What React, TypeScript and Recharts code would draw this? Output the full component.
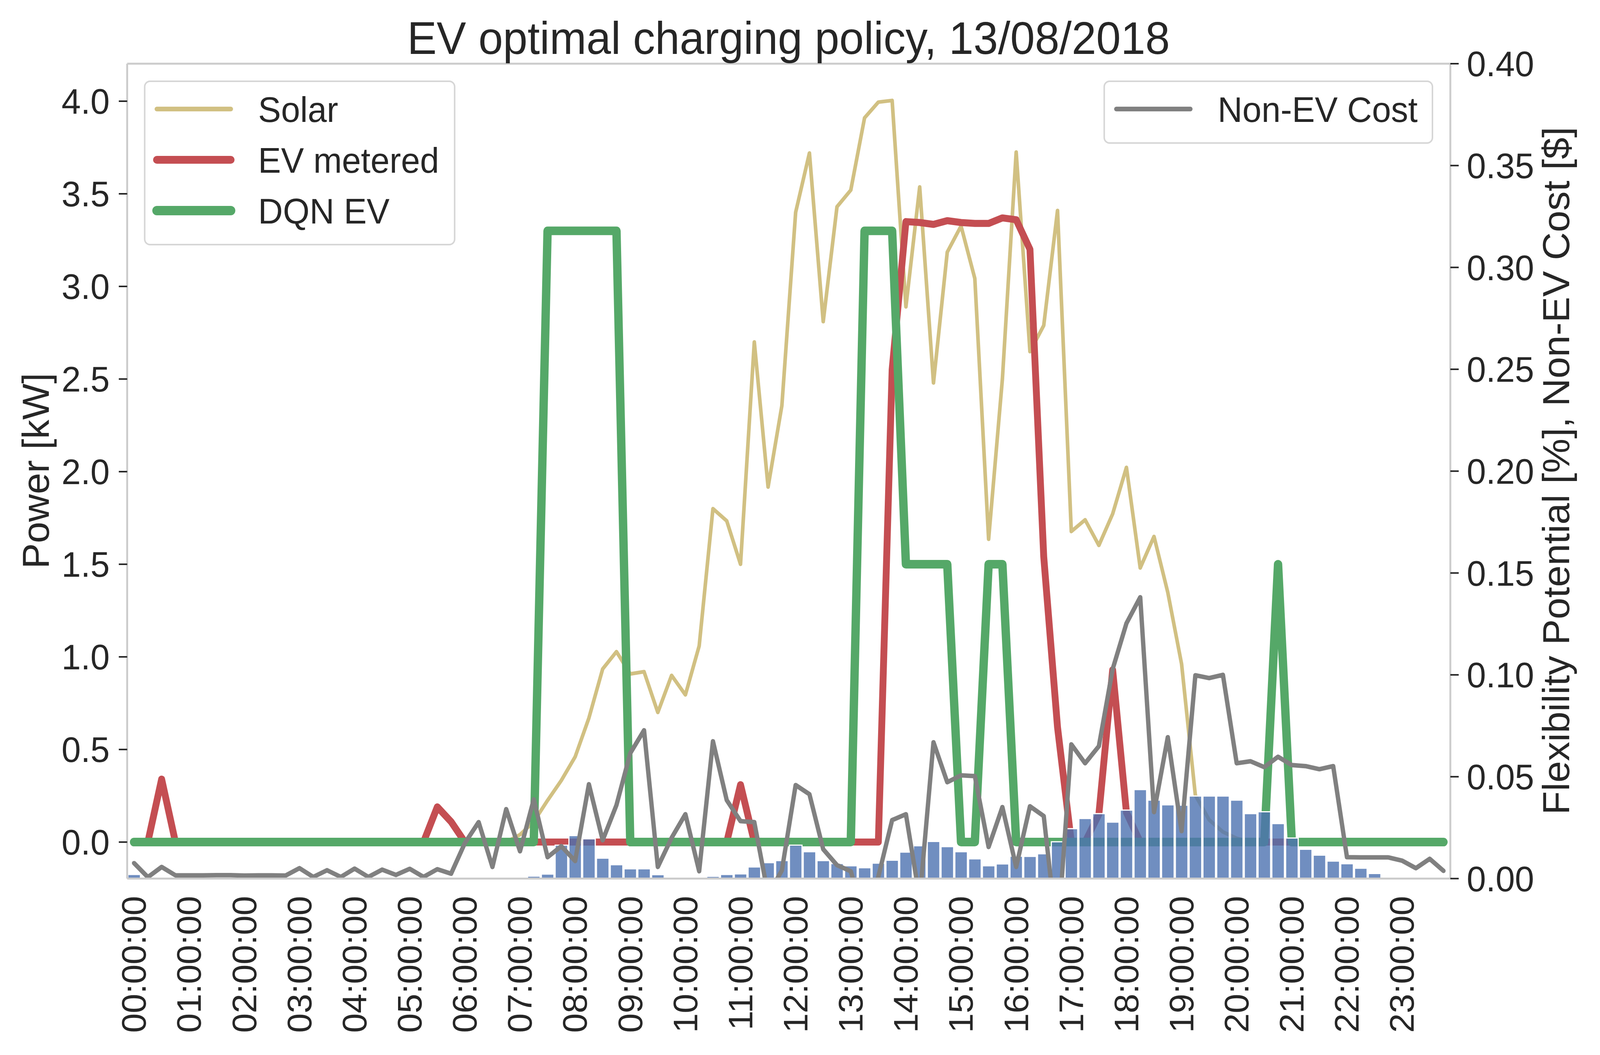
import {
  Bar,
  ComposedChart,
  Line,
  ReferenceLine,
  XAxis,
  YAxis,
} from 'recharts';

const FONT = '"Liberation Sans", Arial, Helvetica, sans-serif';
const INK = '#262626';
const SPINE = '#cccccc';

const HOURS = [
  '00', '01', '02', '03', '04', '05', '06', '07', '08', '09', '10', '11',
  '12', '13', '14', '15', '16', '17', '18', '19', '20', '21', '22', '23',
];
const QUARTERS = ['00', '15', '30', '45'];
const TIMES = HOURS.flatMap((h) => QUARTERS.map((q) => `${h}:${q}:00`));

// kW, left axis
const SOLAR = [
  0, 0, 0, 0, 0, 0, 0, 0,
  0, 0, 0, 0, 0, 0, 0, 0,
  0, 0, 0, 0, 0, 0, 0, 0,
  0, 0, 0, 0, 0.04, 0.11, 0.225, 0.333,
  0.46, 0.67, 0.935, 1.028, 0.908, 0.92, 0.7, 0.9,
  0.795, 1.059, 1.8, 1.734, 1.5, 2.7, 1.917, 2.356,
  3.4, 3.72, 2.81, 3.43, 3.52, 3.91, 3.995, 4.004,
  2.89, 3.537, 2.479, 3.185, 3.326, 3.043, 1.635, 2.5,
  3.725, 2.648, 2.789, 3.41, 1.677, 1.74, 1.602, 1.772,
  2.023, 1.48, 1.65, 1.348, 0.962, 0.253, 0.12, 0.055,
  0.02, 0, 0, 0, 0, 0, 0, 0,
  0, 0, 0, 0, 0, 0, 0, 0,
];

const EV_METERED = [
  0, 0, 0.34, 0, 0, 0, 0, 0,
  0, 0, 0, 0, 0, 0, 0, 0,
  0, 0, 0, 0, 0, 0, 0.19, 0.11,
  0, 0, 0, 0, 0, 0, 0, 0,
  0, 0, 0, 0, 0, 0, 0, 0,
  0, 0, 0, 0, 0.31, 0, 0, 0,
  0, 0, 0, 0, 0, 0, 0, 2.55,
  3.35, 3.345, 3.335, 3.355, 3.345, 3.34, 3.34, 3.37,
  3.36, 3.2, 1.54, 0.62, 0, 0, 0.15, 0.93,
  0.16, 0, 0, 0, 0, 0, 0, 0,
  0, 0, 0, 0, 0, 0, 0, 0,
  0, 0, 0, 0, 0, 0, 0, 0,
];

const DQN_EV = [
  0, 0, 0, 0, 0, 0, 0, 0,
  0, 0, 0, 0, 0, 0, 0, 0,
  0, 0, 0, 0, 0, 0, 0, 0,
  0, 0, 0, 0, 0, 0, 3.3, 3.3,
  3.3, 3.3, 3.3, 3.3, 0, 0, 0, 0,
  0, 0, 0, 0, 0, 0, 0, 0,
  0, 0, 0, 0, 0, 3.3, 3.3, 3.3,
  1.5, 1.5, 1.5, 1.5, 0, 0, 1.5, 1.5,
  0, 0, 0, 0, 0, 0, 0, 0,
  0, 0, 0, 0, 0, 0, 0, 0,
  0, 0, 0, 1.5, 0, 0, 0, 0,
  0, 0, 0, 0, 0, 0, 0, 0,
];

// right axis
const FLEXIBILITY = [
  0.002, 0.0002, 0.0003, 0, 0, 0, 0, 0,
  0, 0, 0, 0.0005, 0, 0, 0.0002, 0,
  0, 0, 0.0007, 0, 0.0007, 0, 0, 0.0003,
  0, 0, 0, 0, 0, 0.0012, 0.0022, 0.0164,
  0.0211, 0.0195, 0.01, 0.0068, 0.0048, 0.0048, 0.0019, 0,
  0.0003, 0, 0.0011, 0.002, 0.0023, 0.0057, 0.0078, 0.0088,
  0.0164, 0.0132, 0.0088, 0.0074, 0.0063, 0.0053, 0.0076, 0.009,
  0.013, 0.0161, 0.0182, 0.0157, 0.0132, 0.0097, 0.0063, 0.0072,
  0.011, 0.0109, 0.0122, 0.0181, 0.0245, 0.0295, 0.0319, 0.0277,
  0.0336, 0.0437, 0.0385, 0.0362, 0.036, 0.0405, 0.0405, 0.0405,
  0.0385, 0.0319, 0.0328, 0.027, 0.0199, 0.0144, 0.0115, 0.0086,
  0.0073, 0.0051, 0.0025, 0, 0.0002, 0.0003, 0.0005, 0.0003,
];

const NON_EV_COST = [
  0.0076, 0.0007, 0.0057, 0.0016, 0.0016, 0.0016, 0.0017, 0.0017,
  0.0015, 0.0016, 0.0016, 0.0015, 0.0051, 0.0008, 0.0041, 0.0008,
  0.0049, 0.0008, 0.0044, 0.0018, 0.0048, 0.0008, 0.0046, 0.0024,
  0.0174, 0.0277, 0.0057, 0.0341, 0.0134, 0.0389, 0.0105, 0.0159,
  0.0086, 0.0463, 0.0188, 0.0361, 0.0615, 0.0728, 0.0057, 0.02,
  0.0316, 0.0036, 0.0674, 0.0385, 0.0282, 0.0277, -0.008, 0.004,
  0.0459, 0.0414, 0.0144, 0.0066, 0.0036, -0.02, 0.001, 0.0287,
  0.0316, -0.01, 0.0669, 0.0473, 0.0507, 0.0503, 0.0155, 0.0351,
  0.0057, 0.0355, 0.0307, -0.03, 0.0659, 0.0566, 0.065, 0.1028,
  0.1253, 0.1381, 0.0326, 0.0694, 0.0233, 0.0998, 0.0984, 0.1,
  0.0566, 0.0576, 0.0547, 0.0598, 0.0557, 0.0552, 0.0537, 0.0552,
  0.0105, 0.0104, 0.0104, 0.0104, 0.0088, 0.0051, 0.0097, 0.0038,
];

const POWER_TICKS = [0, 0.5, 1, 1.5, 2, 2.5, 3, 3.5, 4];
const RIGHT_TICKS = [0, 0.05, 0.1, 0.15, 0.2, 0.25, 0.3, 0.35, 0.4];
const POWER_DOMAIN = [-0.197, 4.2025];
const RIGHT_DOMAIN = [0, 0.4];

const LEFT_ITEMS = [
  { name: 'Solar', color: '#d1c082', width: 12 },
  { name: 'EV metered', color: '#c44e52', width: 20 },
  { name: 'DQN EV', color: '#55a868', width: 24 },
];
const RIGHT_ITEMS = [{ name: 'Non-EV Cost', color: '#808080', width: 12 }];

const data = TIMES.map((time, i) => ({
  time,
  solar: SOLAR[i],
  ev: EV_METERED[i],
  dqn: DQN_EV[i],
  flex: FLEXIBILITY[i],
  cost: NON_EV_COST[i],
}));

const W = 4200;
const H = 2700;
// the photographed viewport is a little narrower than 4200px,
// so the whole figure is squeezed horizontally to stay in frame
const FIT_X = 4094 / 4200;
const tickStyle = { fontSize: 91, fill: INK, fontFamily: FONT };
const layer = { position: 'absolute' as const, left: 0, top: 0 };

function TimeTick(props: any) {
  const { x, payload } = props;
  const y = 2293;
  return (
    <text
      x={x}
      y={y}
      transform={`rotate(-90 ${x} ${y})`}
      textAnchor="end"
      dominantBaseline="central"
      fontSize={90}
      fill={INK}
      fontFamily={FONT}
    >
      {payload.value}
    </text>
  );
}

function LegendBox({ x, y, w, h, items }: any) {
  return (
    <g>
      <rect x={x} y={y} width={w} height={h} rx={14} fill="#ffffff" fillOpacity={0.8} stroke="#d6d6d6" strokeWidth={4} />
      {items.map((it: any, k: number) => {
        const cy = y + 71 + k * 130;
        return (
          <g key={it.name}>
            <line x1={x + 32} x2={x + 226} y1={cy} y2={cy} stroke={it.color} strokeWidth={it.width} strokeLinecap="round" />
            <text x={x + 298} y={cy + 33} fontSize={90} fill={INK} fontFamily={FONT}>
              {it.name}
            </text>
          </g>
        );
      })}
    </g>
  );
}

// both layers share one frame, like a twinx pair
function Frame({ children, showAxes }: any) {
  return (
    <ComposedChart width={W} height={H} data={data} margin={{ top: 163, right: 0, bottom: 0, left: 0 }} barCategoryGap="5%">
      <XAxis
        dataKey="time"
        scale="band"
        interval={3}
        height={451.5}
        tickLine={false}
        axisLine={showAxes ? { stroke: SPINE, strokeWidth: 5 } : false}
        tick={showAxes ? <TimeTick /> : false}
      />
      <YAxis
        yAxisId="kw"
        width={334}
        domain={POWER_DOMAIN}
        ticks={POWER_TICKS}
        allowDataOverflow
        tickFormatter={(v: number) => v.toFixed(1)}
        tick={showAxes ? tickStyle : false}
        tickSize={22}
        tickMargin={24}
        tickLine={showAxes ? { stroke: INK, strokeWidth: 4 } : false}
        axisLine={showAxes ? { stroke: SPINE, strokeWidth: 5 } : false}
      />
      <YAxis
        yAxisId="flex"
        orientation="right"
        width={391}
        domain={RIGHT_DOMAIN}
        ticks={RIGHT_TICKS}
        allowDataOverflow
        tickFormatter={(v: number) => v.toFixed(2)}
        tick={showAxes ? tickStyle : false}
        tickSize={22}
        tickMargin={21}
        tickLine={showAxes ? { stroke: INK, strokeWidth: 4 } : false}
        axisLine={showAxes ? { stroke: SPINE, strokeWidth: 5 } : false}
      />
      {children}
    </ComposedChart>
  );
}

export default function App() {
  return (
    <div
      style={{
        ...layer,
        width: W,
        height: H,
        background: '#ffffff',
        transform: `scaleX(${FIT_X})`,
        transformOrigin: '0 0',
      }}
    >
      <div style={layer}>
        <Frame showAxes={false}>
          <Line yAxisId="kw" dataKey="solar" type="linear" stroke="#d1c082" strokeWidth={9.5} dot={false} strokeLinejoin="round" strokeLinecap="round" isAnimationActive={false} />
          <Line yAxisId="kw" dataKey="ev" type="linear" stroke="#c44e52" strokeWidth={18} dot={false} strokeLinejoin="round" strokeLinecap="round" isAnimationActive={false} />
          <Line yAxisId="kw" dataKey="dqn" type="linear" stroke="#55a868" strokeWidth={22} dot={false} strokeLinejoin="round" strokeLinecap="round" isAnimationActive={false} />
        </Frame>
      </div>
      <div style={layer}>
        <Frame showAxes>
          <Bar yAxisId="flex" dataKey="flex" fill="#4c72b0" fillOpacity={0.8} stroke="#ffffff" strokeWidth={3} isAnimationActive={false} />
          <Line yAxisId="flex" dataKey="cost" type="linear" stroke="#808080" strokeWidth={11.5} dot={false} strokeLinejoin="round" strokeLinecap="round" isAnimationActive={false} />
          <ReferenceLine yAxisId="kw" y={POWER_DOMAIN[1]} stroke={SPINE} strokeWidth={5} />
        </Frame>
      </div>
      <svg width={W} height={H} style={{ ...layer, pointerEvents: 'none' }}>
        <text x={2071} y={138} textAnchor="middle" fontSize={116} fill={INK} fontFamily={FONT}>
          EV optimal charging policy, 13/08/2018
        </text>
        <text x={128} y={1205} transform="rotate(-90 128 1205)" textAnchor="middle" fontSize={98} fill={INK} fontFamily={FONT}>
          Power [kW]
        </text>
        <text x={4121} y={1205} transform="rotate(-90 4121 1205)" textAnchor="middle" fontSize={99} fill={INK} fontFamily={FONT}>
          Flexibility Potential [%], Non-EV Cost [$]
        </text>
        <LegendBox x={380} y={208} w={814} h={418} items={LEFT_ITEMS} />
        <LegendBox x={2900} y={208} w={862} h={158} items={RIGHT_ITEMS} />
      </svg>
    </div>
  );
}
